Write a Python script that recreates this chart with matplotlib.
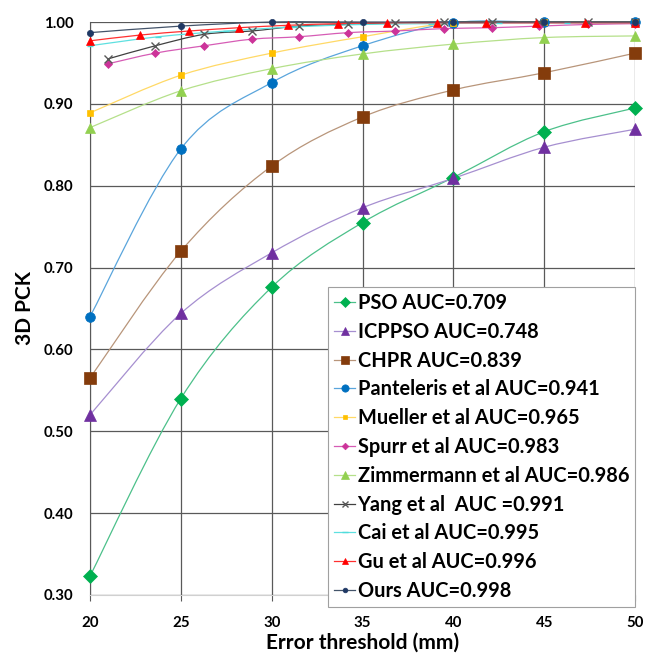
import numpy as np
import matplotlib
matplotlib.use("Agg")
from matplotlib import pyplot as plt
from matplotlib.path import Path
from matplotlib.patches import PathPatch
from matplotlib.lines import Line2D

plt.rcParams['font.family'] = ['Lato', 'DejaVu Sans']
plt.rcParams['font.weight'] = 'bold'

# values
x5 = [20, 25, 30, 35, 40, 45, 50]
x_spurr = [21.0, 23.6, 26.3, 28.9, 31.5, 34.2, 36.8, 39.5, 42.1, 44.7, 47.4, 50.0]
x_cai = [20, 23.75, 27.5, 31.25, 35, 38.75, 42.5, 46.25, 50]
x_gu = [20, 22.73, 25.45, 28.18, 30.91, 33.64, 36.36, 39.09, 41.82, 44.55, 47.27, 50]

pso = [0.323, 0.540, 0.676, 0.755, 0.810, 0.866, 0.895]
icppso = [0.520, 0.644, 0.718, 0.773, 0.809, 0.847, 0.869]
chpr = [0.565, 0.720, 0.824, 0.884, 0.917, 0.938, 0.962]
panteleris = [0.640, 0.845, 0.926, 0.971, 0.999, 1.000, 1.000]
mueller = [0.889, 0.935, 0.962, 0.982, 0.999, 1.000, 1.000]
spurr = [0.949, 0.962, 0.971, 0.979, 0.982, 0.987, 0.989, 0.992, 0.993, 0.995, 0.997, 0.998]
zimmermann = [0.871, 0.916, 0.943, 0.961, 0.973, 0.981, 0.983]
yang = [0.955, 0.971, 0.985, 0.989, 0.995, 0.997, 0.999, 1.000, 1.000, 1.000, 1.000, 1.000]
cai = [0.971, 0.982, 0.989, 0.994, 0.997, 0.998, 0.999, 0.999, 0.999]
gu = [0.977, 0.984, 0.989, 0.993, 0.996, 0.998, 0.999, 0.999, 0.999, 0.999, 0.999, 0.999]
ours = [0.987, 0.995, 1.000, 1.000, 1.000, 1.000, 1.000]

labels = ['PSO AUC=0.709', 'ICPPSO AUC=0.748', 'CHPR AUC=0.839',
          'Panteleris et al AUC=0.941', 'Mueller et al AUC=0.965',
          'Spurr et al AUC=0.983', 'Zimmermann et al AUC=0.986',
          'Yang et al  AUC =0.991', 'Cai et al AUC=0.995',
          'Gu et al AUC=0.996', 'Ours AUC=0.998']

# (x, y, line colour, marker colour, marker, size)
series = [
    (x5, pso, '#4cc08a', '#00b050', 'D', 7),
    (x5, icppso, '#a68fd0', '#7030a0', '^', 8),
    (x5, chpr, '#b8957a', '#843c0c', 's', 8),
    (x5, panteleris, '#5aa5dc', '#0070c0', 'o', 7),
    (x5, mueller, '#ffd966', '#ffc000', 's', 4.5),
    (x_spurr, spurr, '#d65cb5', '#cc3399', 'D', 4.5),
    (x5, zimmermann, '#b5e08a', '#92d050', '^', 7),
    (x_spurr, yang, '#404040', '#595959', 'x', 6),
    (x_cai, cai, '#5ee0e0', '#4fdcdc', '_', 5),
    (x_gu, gu, '#ff3030', '#ff0000', '^', 6),
    (x5, ours, '#44546a', '#1f3864', 'o', 4.5),
]


def smooth_path(x, y):
    # Excel-style smoothed line: cubic bezier through the data points
    pts = np.column_stack([x, y])
    n = len(pts)
    verts = [pts[0]]
    codes = [Path.MOVETO]
    for i in range(n - 1):
        p0 = pts[i - 1] if i > 0 else pts[i]
        p1 = pts[i]
        p2 = pts[i + 1]
        p3 = pts[i + 2] if i + 2 < n else pts[i + 1]
        verts += [p1 + (p2 - p0) / 6, p2 - (p3 - p1) / 6, p2]
        codes += [Path.CURVE4] * 3
    return Path(verts, codes)


fig = plt.figure(figsize=(6.54, 6.57), dpi=100)
ax = fig.add_axes([0.1376, 0.0944, 0.8334, 0.8721])

handles = []
for (x, y, lc, mc, mk, ms), lab in zip(series, labels):
    ax.add_patch(PathPatch(smooth_path(x, y), fill=False, edgecolor=lc,
                           lw=0.9, zorder=3, clip_on=False))
    mew = 1.0 if mk in ('x', '_') else 0.5
    ax.plot(x, y, linestyle='none', marker=mk, ms=ms, color=mc,
            markeredgecolor=mc, markeredgewidth=mew, zorder=4, clip_on=False)
    handles.append(Line2D([], [], color=lc, lw=0.9, marker=mk, ms=ms * 0.75,
                          markerfacecolor=mc, markeredgecolor=mc,
                          markeredgewidth=mew))

ax.set_xlim(20, 50)
ax.set_ylim(0.30, 1.00)
ax.set_xticks(x5)
ax.set_yticks(np.arange(0.30, 1.001, 0.10))
ax.set_yticklabels(['%.2f' % v for v in np.arange(0.30, 1.001, 0.10)])
ax.grid(True, color='#595959', lw=0.9)
ax.set_axisbelow(True)
for s in ('top', 'right'):
    ax.spines[s].set_visible(False)
ax.spines['left'].set_color('#595959')
ax.spines['bottom'].set_color('#d0d0d0')
ax.tick_params(axis='x', length=4, color='#595959', pad=11, labelsize=10.8)
ax.tick_params(axis='y', length=0, pad=12, labelsize=10.8)
for t in ax.get_xticklabels() + ax.get_yticklabels():
    t.set_fontweight('bold')

ax.set_xlabel('Error threshold (mm)', fontsize=15, fontweight='bold', labelpad=2)
ax.set_ylabel('3D PCK', fontsize=15, fontweight='bold', labelpad=6)

leg = ax.legend(handles, labels, loc='upper left', bbox_to_anchor=(0.437, 0.5375),
                prop={'size': 14.4, 'weight': 'bold'}, handlelength=1.05,
                handletextpad=0.12, labelspacing=0.44, borderpad=0.3,
                borderaxespad=0, fancybox=False, framealpha=1, numpoints=1)
leg.get_frame().set_edgecolor('#a0a0a0')
leg.get_frame().set_linewidth(0.8)
leg.set_zorder(5)

fig.savefig('out.png', dpi=100)
